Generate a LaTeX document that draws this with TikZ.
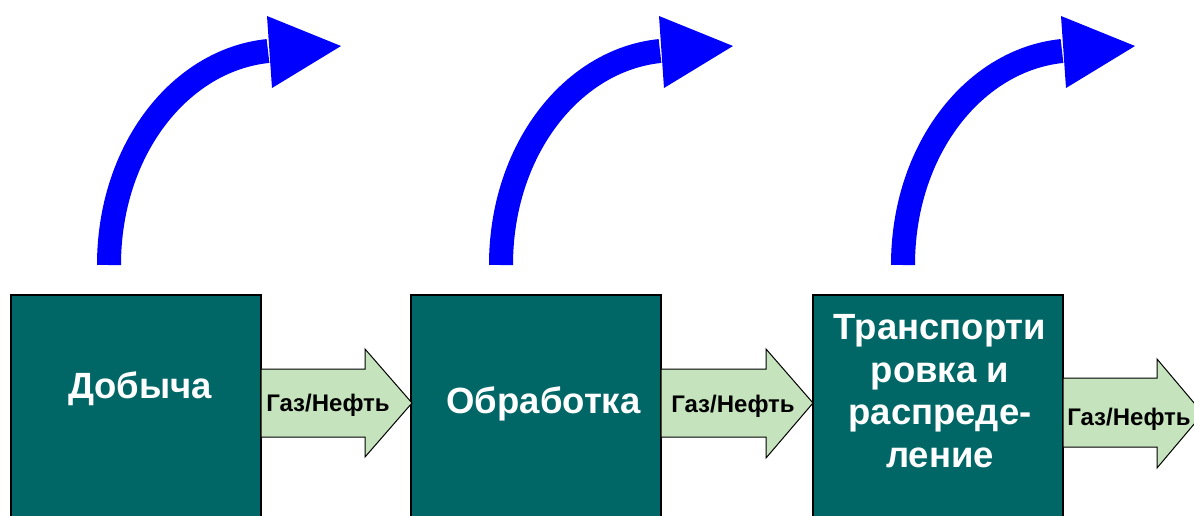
\documentclass[tikz,border=0pt]{standalone}
\usepackage{fontspec}
\setmainfont{Liberation Sans}
\definecolor{boxteal}{RGB}{0,102,102}
\definecolor{flowgreen}{RGB}{197,227,189}
\definecolor{upblue}{RGB}{0,0,255}
\tikzset{
  stagebox/.style={draw=black, line width=1.2pt, fill=boxteal, minimum width=250pt, minimum height=265pt, inner sep=0pt},
  stagetext/.style={text=white, font=\fontsize{36.5}{42.7}\selectfont\bfseries, align=center, inner sep=0pt},
  flowarrow/.style={draw=black, line width=1pt, fill=flowgreen},
  flowtext/.style={text=black, font=\fontsize{24}{28}\selectfont\bfseries, inner sep=0pt},
  upshaft/.style={draw=upblue, line width=24pt},
  uphead/.style={fill=upblue}
}
\begin{document}
\begin{tikzpicture}[x=1pt,y=-1pt]
\useasboundingbox (0,0) rectangle (1194,515);
\clip (0,0) rectangle (1194,515);
\fill[white] (0,0) rectangle (1194,515);

% stage boxes
\node[stagebox] (b1) at (136,427.5) {};
\node[stagebox] (b2) at (536,427.5) {};
\node[stagebox] (b3) at (938,427.5) {};

% green flow arrows
\draw[flowarrow] (261,369) -- (365,369) -- (365,349) -- (412,403) -- (365,457) -- (365,437) -- (261,437) -- cycle;
\draw[flowarrow] (661,369) -- (766,369) -- (766,349) -- (813,403) -- (766,458) -- (766,437) -- (661,437) -- cycle;
\draw[flowarrow] (1063,378) -- (1157,378) -- (1157,359) -- (1203,413.5) -- (1157,468) -- (1157,447) -- (1063,447) -- cycle;

% texts
\node[stagetext, anchor=base] (t1) at (140,398) {Добыча};
\node[stagetext, anchor=base] (t2) at (543.5,413) {Обработка};
\node[stagetext, anchor=center] (t3) at (940,391) {Транспорти\\ровка и\\распреде-\\ление};

\node[flowtext, anchor=base] (g1) at (328,411) {Газ/Нефть};
\node[flowtext, anchor=base] (g2) at (733,412) {Газ/Нефть};
\node[flowtext, anchor=base] (g3) at (1129,425) {Газ/Нефть};

% blue curved arrows
\foreach \dx in {0,392,794} {
  \draw[upshaft] (109+\dx,265) .. controls (109+\dx,150) and (180+\dx,60) .. (268+\dx,51);
  \fill[uphead] (267+\dx,16) -- (341+\dx,46) -- (272+\dx,88) -- cycle;
}
\end{tikzpicture}
\end{document}
